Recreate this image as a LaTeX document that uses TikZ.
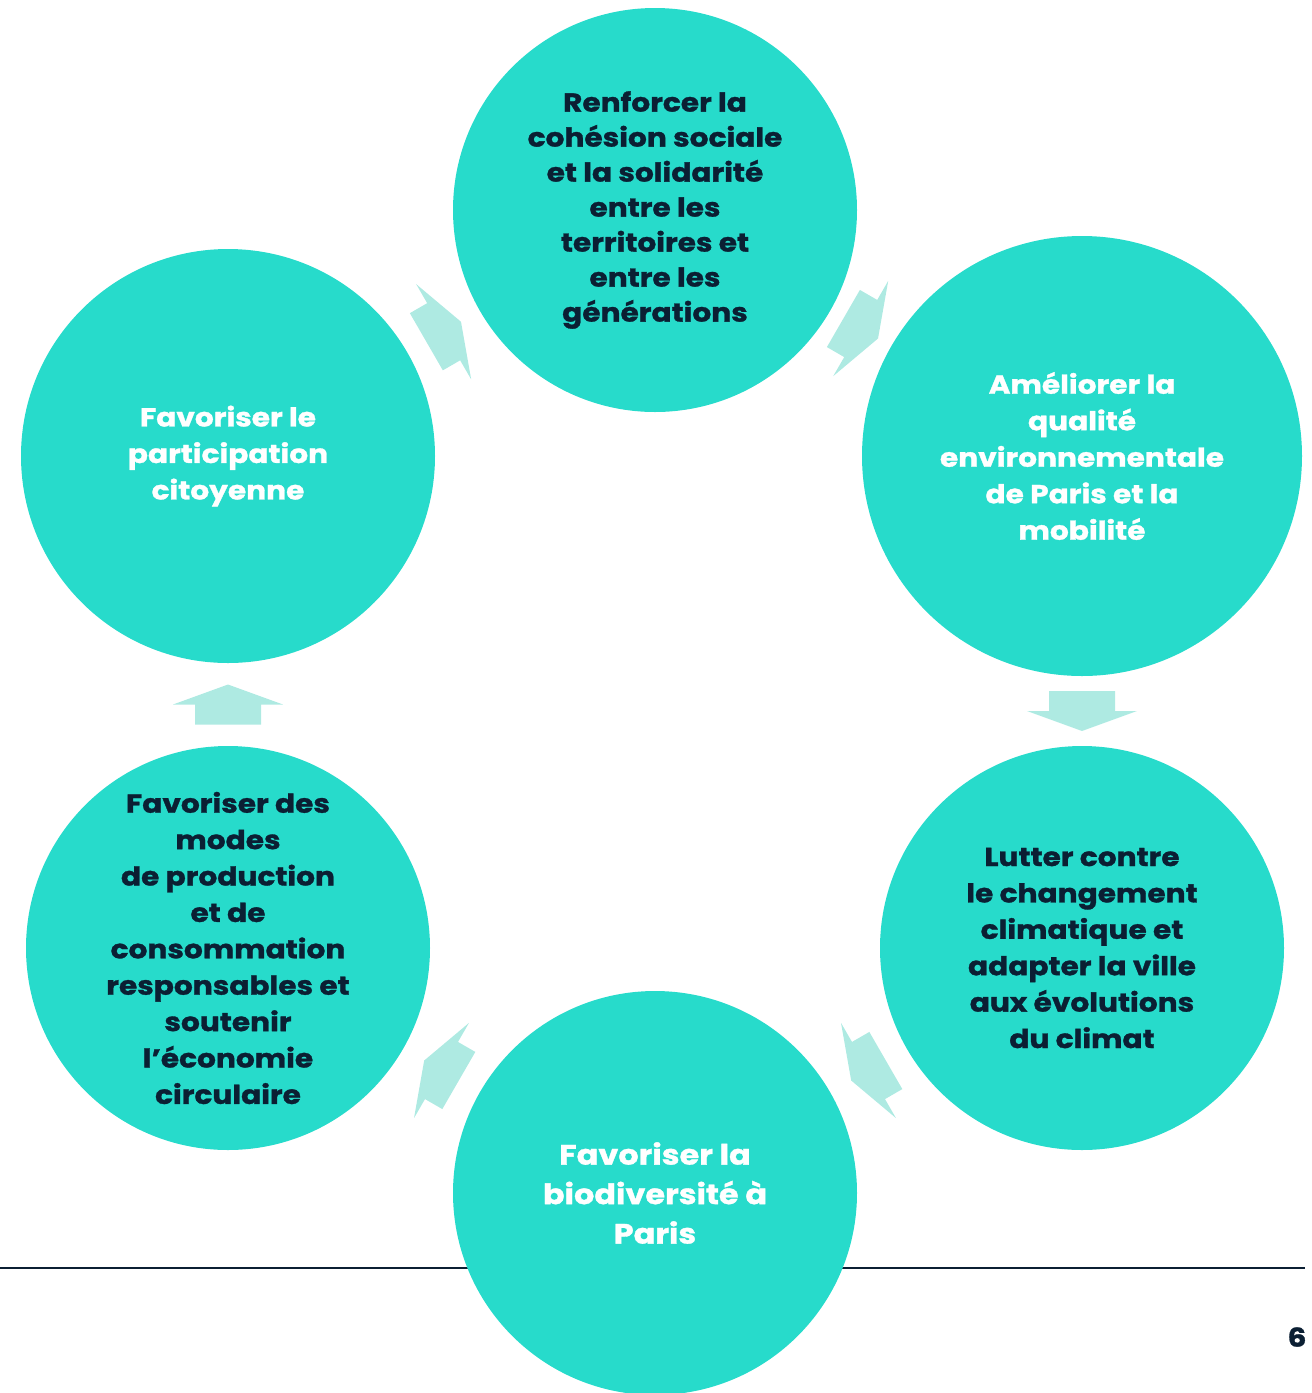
\documentclass[tikz,border=0pt]{standalone}
\usepackage{fontspec}
\setmainfont{Poppins}[BoldFeatures={FakeStretch=1.14, FakeBold=1.2}]
\usetikzlibrary{calc}

\definecolor{bubblefill}{HTML}{27DBCB}
\definecolor{arrowfill}{HTML}{AEEAE2}
\definecolor{navy}{HTML}{0B1F33}

\begin{document}
\begin{tikzpicture}[x=1pt, y=-1pt,
    bubble/.style={circle, fill=bubblefill, inner sep=0pt, minimum size=#1},
    bubble/.default=404pt,
    darktext/.style={align=center, text=navy, font=\fontsize{26}{35}\selectfont\bfseries},
    lighttext/.style={align=center, text=white, font=\fontsize{26}{36.5}\selectfont\bfseries}]
  \useasboundingbox (0,0) rectangle (1312,1393);

  % Draw rule and page number
  \coordinate (ruleL) at (0,1268);
  \coordinate (ruleR) at (1305,1268);
  \draw[navy, line width=2pt] (ruleL) -- (ruleR);
  \node[text=navy, font=\fontsize{26}{30}\selectfont\bfseries] (pagenum) at (1297,1337) {6};

  % Draw circles
  \node[bubble] (cohesion) at (655,210) {};
  \node[bubble=440pt] (qualite) at (1082,456) {};
  \node[bubble] (climat) at (1082,948) {};
  \node[bubble] (biodiv) at (655,1193) {};
  \node[bubble] (conso) at (228,948) {};
  \node[bubble=414pt] (citoyen) at (228,456) {};

  % Draw arrows between circles
  \foreach \a/\b/\ang/\opp in {citoyen/cohesion/30/210, cohesion/qualite/-30/150,
      qualite/climat/-90/90, climat/biodiv/-150/30, biodiv/conso/150/-30,
      conso/citoyen/90/-90}
    \fill[arrowfill, shift={($(\a.\ang)!0.5!(\b.\opp)$)}, rotate=\ang]
      (-20,-33) -- (0,-33) -- (0,-55) -- (20,0) -- (0,55) -- (0,33) -- (-20,33) -- cycle;

  % Draw texts
  \node[darktext] (cohesion-txt) at (cohesion) {Renforcer la\\cohésion sociale\\et la solidarité\\entre les\\territoires et\\entre les\\générations};
  \node[lighttext] (qualite-txt) at (qualite) {Améliorer la\\qualité\\environnementale\\de Paris et la\\mobilité};
  \node[darktext, font=\fontsize{26}{36.4}\selectfont\bfseries] (climat-txt) at (climat) {Lutter contre\\le changement\\climatique et\\adapter la ville\\aux évolutions\\du climat};
  \node[lighttext, font=\fontsize{28}{39.5}\selectfont\bfseries] (biodiv-txt) at (biodiv) {Favoriser la\\biodiversité à\\Paris};
  \node[darktext, font=\fontsize{26}{36.4}\selectfont\bfseries] (conso-txt) at (conso) {Favoriser des\\modes\\de production\\et de\\consommation\\responsables et\\soutenir\\l’économie\\circulaire};
  \node[lighttext] (citoyen-txt) at (citoyen) {Favoriser le\\participation\\citoyenne};
\end{tikzpicture}
\end{document}
